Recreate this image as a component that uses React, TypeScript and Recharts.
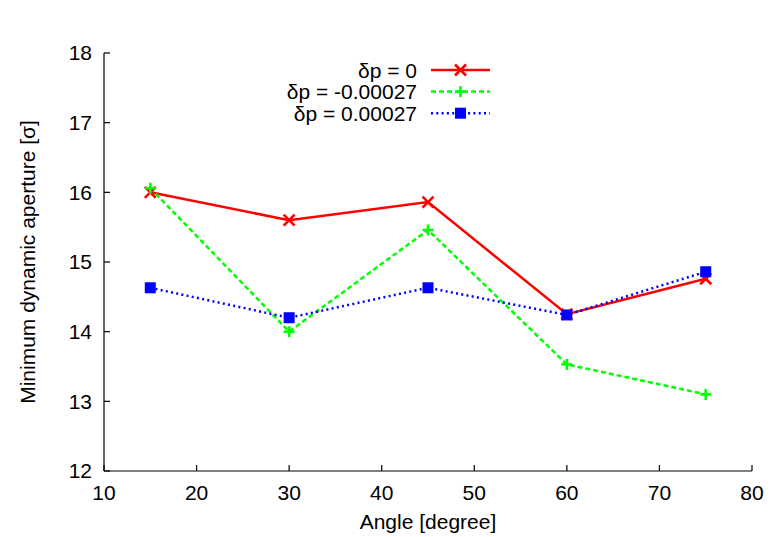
import React from 'react';
import { LineChart, Line, XAxis, YAxis, Legend } from 'recharts';

const angles = [15, 30, 45, 60, 75];
const dpZero = [16.0, 15.6, 15.86, 14.25, 14.76];
const dpMinus = [16.06, 14.0, 15.46, 13.53, 13.1];
const dpPlus = [14.63, 14.2, 14.63, 14.24, 14.86];
const xTicks = [10, 20, 30, 40, 50, 60, 70, 80];
const yTicks = [12, 13, 14, 15, 16, 17, 18];
const seriesNames = ['δp = 0', 'δp = -0.00027', 'δp = 0.00027'];
const titleText = '100,000 turns, lowbetamax collision optics';
const xLabelText = 'Angle [degree]';
const yLabelText = 'Minimum dynamic aperture [σ]';

const data = angles.map((a, i) => ({ angle: a, zero: dpZero[i], minus: dpMinus[i], plus: dpPlus[i] }));

const FONT = '"Liberation Sans", Arial, Helvetica, sans-serif';
const FS = 21;

const series = [
  { key: 'zero', name: seriesNames[0], color: '#ff0000', dash: undefined as string | undefined, marker: 'cross' },
  { key: 'minus', name: seriesNames[1], color: '#00ff00', dash: '5 3', marker: 'plus' },
  { key: 'plus', name: seriesNames[2], color: '#0000ff', dash: '2 3.3', marker: 'square' },
];

function Marker({ kind, cx, cy, color }: { kind: string; cx: number; cy: number; color: string }) {
  const s = 5.5;
  if (kind === 'cross') {
    return (
      <g>
        <line x1={cx - s} y1={cy - s} x2={cx + s} y2={cy + s} stroke={color} strokeWidth={2.6} />
        <line x1={cx - s} y1={cy + s} x2={cx + s} y2={cy - s} stroke={color} strokeWidth={2.6} />
      </g>
    );
  }
  if (kind === 'plus') {
    return (
      <g>
        <line x1={cx - s} y1={cy} x2={cx + s} y2={cy} stroke={color} strokeWidth={2.6} />
        <line x1={cx} y1={cy - s} x2={cx} y2={cy + s} stroke={color} strokeWidth={2.6} />
      </g>
    );
  }
  return <rect x={cx - s} y={cy - s} width={2 * s} height={2 * s} fill={color} />;
}

const LegendContent = () => (
  <svg width={773} height={80} style={{ display: 'block' }}>
    {series.map((s, i) => {
      const y = 15 + i * 21.6;
      return (
        <g key={s.key}>
          <text x={417} y={y + 7.5} textAnchor="end" fontFamily={FONT} fontSize={FS} fill="#000">
            {s.name}
          </text>
          <line x1={431} y1={y} x2={490} y2={y} stroke={s.color} strokeWidth={2.5} strokeDasharray={s.dash} />
          <Marker kind={s.marker} cx={460.5} cy={y} color={s.color} />
        </g>
      );
    })}
  </svg>
);

const axisLine = { stroke: '#000', strokeWidth: 1.2 };
const tickLine = { stroke: '#000', strokeWidth: 1.2 };
const tickStyle = { fill: '#000', fontSize: FS, fontFamily: FONT };

export default function App() {
  return (
    <div style={{ position: 'absolute', left: 0, top: 0, background: '#fff' }}>
      <LineChart width={773} height={537} data={data} margin={{ top: 53, right: 21, bottom: 0, left: 0 }}>
        <XAxis
          dataKey="angle"
          type="number"
          domain={[10, 80]}
          ticks={xTicks}
          interval={0}
          height={66}
          tickSize={-6}
          tickMargin={20}
          axisLine={axisLine}
          tickLine={tickLine}
          tick={tickStyle}
          label={{
            content: () => (
              <text x={428} y={529} textAnchor="middle" fontFamily={FONT} fontSize={FS} fill="#000">
                {xLabelText}
              </text>
            ),
          }}
        />
        <XAxis
          xAxisId="top"
          orientation="top"
          dataKey="angle"
          type="number"
          domain={[10, 80]}
          ticks={xTicks}
          interval={0}
          height={0}
          tickSize={-6}
          axisLine={axisLine}
          tickLine={tickLine}
          tickFormatter={() => ''}
          label={{
            content: () => (
              <text x={420} y={27} textAnchor="middle" fontFamily={FONT} fontSize={FS} fill="#000">
                {titleText}
              </text>
            ),
          }}
        />
        <YAxis
          type="number"
          domain={[12, 18]}
          ticks={yTicks}
          interval={0}
          width={104}
          tickSize={-6}
          tickMargin={18}
          axisLine={axisLine}
          tickLine={tickLine}
          tick={tickStyle}
          label={{
            content: () => (
              <text
                x={35}
                y={262}
                transform="rotate(-90 35 262)"
                textAnchor="middle"
                fontFamily={FONT}
                fontSize={FS}
                fill="#000"
              >
                {yLabelText}
              </text>
            ),
          }}
        />
        <YAxis
          yAxisId="right"
          orientation="right"
          type="number"
          domain={[12, 18]}
          ticks={yTicks}
          interval={0}
          width={0}
          tickSize={-6}
          axisLine={axisLine}
          tickLine={tickLine}
          tickFormatter={() => ''}
        />
        <Legend
          layout="vertical"
          align="center"
          verticalAlign="middle"
          content={LegendContent}
          wrapperStyle={{ position: 'absolute', left: 0, top: 55, width: 773, height: 80 }}
        />
        {series.map((s) => (
          <Line
            key={s.key}
            dataKey={s.key}
            name={s.name}
            stroke={s.color}
            strokeWidth={2.5}
            strokeDasharray={s.dash}
            isAnimationActive={false}
            dot={(p: any) => <Marker key={`${s.key}-${p.index}`} kind={s.marker} cx={p.cx} cy={p.cy} color={s.color} />}
            activeDot={false}
          />
        ))}
      </LineChart>
    </div>
  );
}
